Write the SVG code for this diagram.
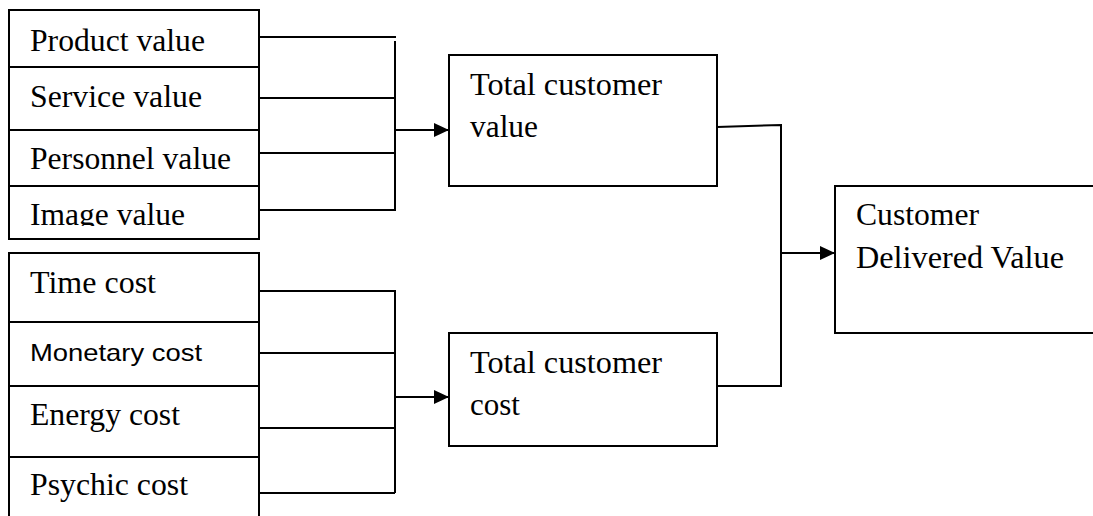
<svg xmlns="http://www.w3.org/2000/svg" width="1093" height="516" viewBox="0 0 1093 516">
<style>
.box{fill:#fff;stroke:#000;stroke-width:2}
.t{font-family:"Liberation Serif","Times New Roman",serif;font-size:31px;fill:#000}
.s{font-family:"Liberation Sans",Arial,sans-serif;font-size:24px;fill:#000}
.c{fill:none;stroke:#000;stroke-width:2}
</style>
<defs>
<marker id="ah" markerUnits="userSpaceOnUse" markerWidth="16" markerHeight="16" viewBox="0 0 16 16" refX="15" refY="8" orient="auto">
<path d="M0,1 L15,8 L0,15 Z" fill="#000"/>
</marker>
<clipPath id="clipImg"><rect x="0" y="186" width="300" height="40"/></clipPath>
</defs>
<rect width="1093" height="516" fill="#fff"/>
<g id="product-value"><rect class="box" x="9" y="10" width="250" height="57"/><text class="t" x="30" y="51" textLength="175" lengthAdjust="spacingAndGlyphs">Product value</text></g>
<g id="service-value"><rect class="box" x="9" y="67" width="250" height="63"/><text class="t" x="30" y="107" textLength="172" lengthAdjust="spacingAndGlyphs">Service value</text></g>
<g id="personnel-value"><rect class="box" x="9" y="130" width="250" height="56"/><text class="t" x="30" y="169" textLength="201" lengthAdjust="spacingAndGlyphs">Personnel value</text></g>
<g id="image-value"><rect class="box" x="9" y="186" width="250" height="53"/><text class="t" x="30" y="225" textLength="155" lengthAdjust="spacingAndGlyphs" clip-path="url(#clipImg)">Image value</text></g>
<g id="time-cost"><rect class="box" x="9" y="253" width="250" height="69"/><text class="t" x="30" y="293" textLength="126" lengthAdjust="spacingAndGlyphs">Time cost</text></g>
<g id="monetary-cost"><rect class="box" x="9" y="322" width="250" height="64"/><text class="s" x="30" y="361" textLength="172" lengthAdjust="spacingAndGlyphs">Monetary cost</text></g>
<g id="energy-cost"><rect class="box" x="9" y="386" width="250" height="71"/><text class="t" x="30" y="425" textLength="150" lengthAdjust="spacingAndGlyphs">Energy cost</text></g>
<g id="psychic-cost"><rect class="box" x="9" y="457" width="250" height="70"/><text class="t" x="30" y="495" textLength="158" lengthAdjust="spacingAndGlyphs">Psychic cost</text></g>
<g id="total-customer-value"><rect class="box" x="449" y="55" width="268" height="131"/><text class="t" x="470" y="95" textLength="192" lengthAdjust="spacingAndGlyphs">Total customer</text><text class="t" x="470" y="137" textLength="68" lengthAdjust="spacingAndGlyphs">value</text></g>
<g id="total-customer-cost"><rect class="box" x="449" y="333" width="268" height="113"/><text class="t" x="470" y="373" textLength="192" lengthAdjust="spacingAndGlyphs">Total customer</text><text class="t" x="470" y="415" textLength="50" lengthAdjust="spacingAndGlyphs">cost</text></g>
<g id="customer-delivered-value"><rect class="box" x="835" y="186" width="270" height="147"/><text class="t" x="856" y="225" textLength="123" lengthAdjust="spacingAndGlyphs">Customer</text><text class="t" x="856" y="268" textLength="208" lengthAdjust="spacingAndGlyphs">Delivered Value</text></g>
<g id="connectors">
<path class="c" d="M259,37 H396 M395,41 V210 M259,98 H395 M259,153 H395 M259,210 H396"/>
<path class="c" d="M395,130 H449" marker-end="url(#ah)"/>
<path class="c" d="M259,291 H395 V493 M259,353 H395 M259,428 H395 M259,493 H395"/>
<path class="c" d="M395,397 H449" marker-end="url(#ah)"/>
<path class="c" d="M717,127 L781,125 V386 H717"/>
<path class="c" d="M781,253 H835" marker-end="url(#ah)"/>
</g>
</svg>
